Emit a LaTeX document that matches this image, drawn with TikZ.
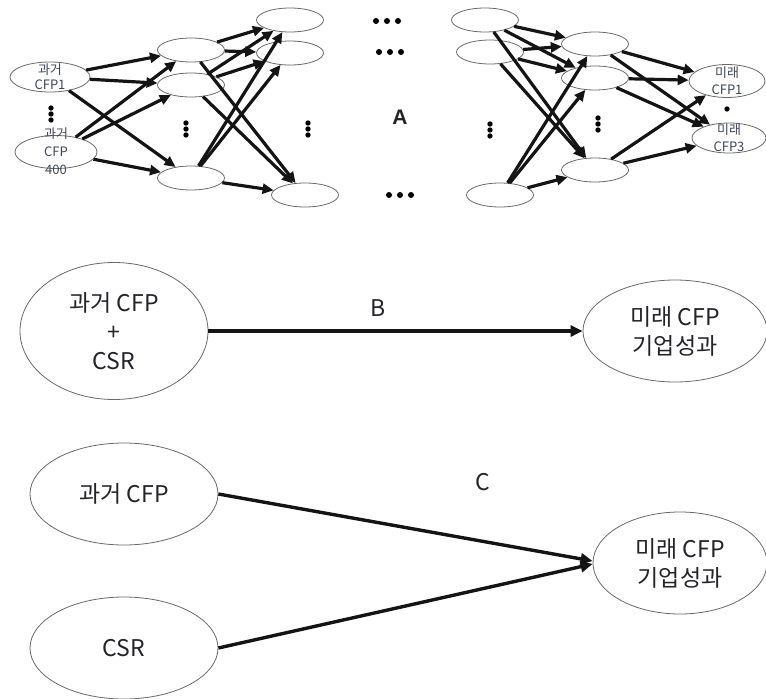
\documentclass[tikz,border=0pt]{standalone}
\usepackage{fontspec}
\setmainfont{Noto Sans CJK KR}
\newfontfamily\lsans{Liberation Sans}
\usetikzlibrary{shapes.geometric,arrows.meta}
\definecolor{ellline}{RGB}{105,105,105}
\definecolor{lbl}{RGB}{62,70,92}
\definecolor{txt}{RGB}{35,35,40}
\newcommand{\vdotsat}[2]{\fill[black] (#1,{#2-6}) circle (2.7pt) (#1,#2) circle (2.7pt) (#1,{#2+6}) circle (2.7pt);}
\newcommand{\hdotsat}[2]{\fill[black] ({#1-11},#2) circle (3pt) (#1,#2) circle (3pt) ({#1+11},#2) circle (3pt);}
\begin{document}
\begin{tikzpicture}[x=1pt,y=-1pt,
  ell/.style={ellipse, draw=ellline, line width=0.8pt, inner sep=0pt},
  sml/.style={ell, minimum width=67pt, minimum height=24pt},
  big/.style={ell, align=center, text=txt, font=\fontsize{23}{29}\selectfont},
  arr/.style={line width=3.2pt, black!92, -{Triangle[length=11pt,width=10pt]}},
  bigarr/.style={line width=3.4pt, black!92, -{Triangle[length=12pt,width=11pt]}},
  slbl/.style={font=\fontsize{13}{15}\selectfont, text=lbl, align=center, inner sep=0pt},
  lett/.style={font=\fontsize{23}{26}\selectfont, text=txt, inner sep=0pt},
]
\useasboundingbox (0,0) rectangle (766,699);

% ---------- Part A ----------
\node[ell, minimum width=80pt, minimum height=30pt] (in1) at (50,77) {};
\node[ell, minimum width=82pt, minimum height=33pt] (in2) at (56,152) {};
\node[sml] (h1a) at (191,50) {};
\node[sml] (h1b) at (191,85) {};
\node[sml] (h1c) at (191,178) {};
\node[sml] (h2a) at (290,20) {};
\node[sml] (h2b) at (290,53) {};
\node[sml] (h2c) at (305,195) {};
\node[sml] (r1a) at (485,20) {};
\node[sml] (r1b) at (490,52) {};
\node[sml] (r1c) at (500,195) {};
\node[sml] (r2a) at (595,44) {};
\node[sml] (r2b) at (595,78) {};
\node[sml] (r2c) at (595,170) {};
\node[ell, minimum width=76pt, minimum height=33pt] (out1) at (727,81) {};
\node[ell, minimum width=74pt, minimum height=30pt] (out2) at (729,138) {};

\node[slbl] (in1t) at (50,77) {과거\\CFP1};
\node[slbl, font=\fontsize{13}{18}\selectfont] (in2t) at (56,151) {과거\\CFP\\400};
\node[slbl, font=\fontsize{13}{17}\selectfont] (out1t) at (727,81) {미래\\CFP1};
\node[slbl, font=\fontsize{13}{17}\selectfont] (out2t) at (729,138) {미래\\CFP3};

\foreach \a/\b in {in1/h1a,in1/h1b,in1/h1c,in2/h1a,in2/h1b,in2/h1c,
  h1a/h2a,h1a/h2b,h1a/h2c,h1b/h2a,h1b/h2b,h1b/h2c,h1c/h2a,h1c/h2b,h1c/h2c,
  r1a/r2a,r1a/r2b,r1a/r2c,r1b/r2a,r1b/r2b,r1b/r2c,r1c/r2a,r1c/r2b,r1c/r2c,
  r2a/out1,r2a/out2,r2b/out1,r2b/out2,r2c/out1,r2c/out2}
  \draw[arr] (\a) -- (\b);

\vdotsat{51}{114}
\vdotsat{186}{129}
\vdotsat{308}{129}
\vdotsat{490}{130}
\vdotsat{598}{124}
\fill[black] (727,109) circle (2.7pt);
\hdotsat{387}{21}
\hdotsat{390}{52}
\hdotsat{400}{195}
\node[font=\lsans\bfseries\fontsize{21}{24}\selectfont, text=txt, inner sep=0pt] (Alab) at (400,117) {A};

% ---------- Part B ----------
\node[big, minimum width=188pt, minimum height=137pt] (bl) at (114,331) {과거 CFP\\+\\CSR};
\node[big, minimum width=184pt, minimum height=102pt] (br) at (675,331) {미래 CFP\\기업성과};
\draw[bigarr] (bl.east) -- (br.west);
\node[lett] (Blab) at (378,308) {B};

% ---------- Part C ----------
\node[big, minimum width=188pt, minimum height=102pt] (cl1) at (124,494) {과거 CFP};
\node[big, minimum width=188pt, minimum height=102pt] (cl2) at (124,648) {CSR};
\node[big, minimum width=174pt, minimum height=102pt] (cr) at (680,563) {미래 CFP\\기업성과};
\draw[bigarr] (cl1.east) -- ([yshift=2pt]cr.west);
\draw[bigarr] (cl2.east) -- ([yshift=-1pt]cr.west);
\node[lett] (Clab) at (483,482) {C};
\end{tikzpicture}
\end{document}
